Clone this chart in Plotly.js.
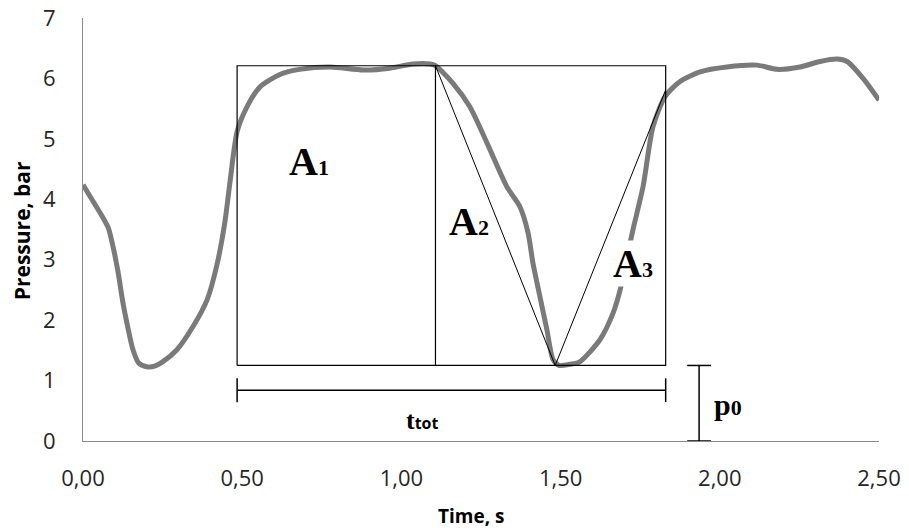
<!DOCTYPE html>
<html>
<head>
<meta charset="utf-8">
<script src="https://cdn.plot.ly/plotly-3.0.1.min.js"></script>
<style>
  html, body { margin: 0; padding: 0; background: #fff; }
  #chart { width: 909px; height: 530px; }
</style>
</head>
<body>
<div id="chart"></div>
<script>
// Pressure trace over one working cycle
const timeS = [0.00, 0.03, 0.06, 0.08, 0.095, 0.11, 0.125, 0.14, 0.157, 0.175, 0.20, 0.225, 0.25,
  0.295, 0.345, 0.39, 0.42, 0.445, 0.462, 0.484, 0.515, 0.556, 0.62, 0.68, 0.776, 0.88, 0.964,
  1.036, 1.09, 1.107, 1.162, 1.215, 1.269, 1.331, 1.372, 1.398, 1.413, 1.435, 1.457, 1.476,
  1.495, 1.53, 1.56, 1.624, 1.665, 1.687, 1.705, 1.727, 1.759, 1.79, 1.828, 1.875, 1.938,
  2.022, 2.117, 2.18, 2.252, 2.315, 2.368, 2.40, 2.45, 2.50];
const pressureBar = [4.24, 3.98, 3.72, 3.52, 3.20, 2.80, 2.30, 1.90, 1.51, 1.29, 1.23, 1.24, 1.31,
  1.51, 1.89, 2.34, 2.90, 3.60, 4.30, 5.12, 5.53, 5.86, 6.07, 6.15, 6.19, 6.14, 6.17,
  6.24, 6.24, 6.21, 5.92, 5.53, 4.93, 4.21, 3.88, 3.44, 2.95, 2.39, 1.84, 1.35,
  1.25, 1.27, 1.31, 1.68, 2.12, 2.50, 2.95, 3.49, 4.21, 5.20, 5.70, 5.95, 6.11,
  6.19, 6.22, 6.15, 6.19, 6.28, 6.32, 6.28, 6.00, 5.64];

// Area construction: rectangle A1, triangles A2 and A3
const boxTimes = [0.484, 1.107, 1.83];      // start, split, end of the cycle
const boxPressures = [1.25, 6.21];          // p0 level, plateau level
const minTime = 1.483;                      // time of the pressure minimum
const riseEndPressure = 5.81;               // pressure where A3 closes

// Dimension lines
const ttotLevel = [0.84];                   // pressure level of the t_tot bar
const p0Time = [1.935];                     // time position of the p0 bar

// Axis ticks
const xTickVals = [0, 0.5, 1.0, 1.5, 2.0, 2.5];
const xTickText = ['0,00', '0,50', '1,00', '1,50', '2,00', '2,50'];
const yTickVals = [0, 1, 2, 3, 4, 5, 6, 7];

const black = '#000000';
const thin = { color: black, width: 1.2 };

const traces = [
  {
    x: timeS, y: pressureBar, type: 'scatter', mode: 'lines',
    line: { color: '#7a7a7a', width: 5, shape: 'spline', smoothing: 0.7 },
    hoverinfo: 'skip'
  },
  {
    // rectangle around the cycle
    x: [boxTimes[0], boxTimes[0], boxTimes[2], boxTimes[2], boxTimes[0]],
    y: [boxPressures[0], boxPressures[1], boxPressures[1], boxPressures[0], boxPressures[0]],
    type: 'scatter', mode: 'lines', line: thin, hoverinfo: 'skip'
  },
  {
    // split between A1 and A2
    x: [boxTimes[1], boxTimes[1]],
    y: [boxPressures[0], boxPressures[1]],
    type: 'scatter', mode: 'lines', line: thin, hoverinfo: 'skip'
  },
  {
    // triangle sides down to the minimum and back up
    x: [boxTimes[1], minTime, boxTimes[2]],
    y: [boxPressures[1], boxPressures[0], riseEndPressure],
    type: 'scatter', mode: 'lines', line: { color: black, width: 1 }, hoverinfo: 'skip'
  },
  {
    // t_tot dimension bar
    x: [boxTimes[0], boxTimes[2]],
    y: [ttotLevel[0], ttotLevel[0]],
    type: 'scatter', mode: 'lines+markers', cliponaxis: false,
    line: { color: black, width: 1.5 },
    marker: { symbol: 'line-ns', size: 17, line: { color: black, width: 1.5 } },
    hoverinfo: 'skip'
  },
  {
    // p0 dimension bar
    x: [p0Time[0], p0Time[0]],
    y: [0, boxPressures[0]],
    type: 'scatter', mode: 'lines+markers', cliponaxis: false,
    line: { color: black, width: 1.5 },
    marker: { symbol: 'line-ew', size: 17, line: { color: black, width: 1.5 } },
    hoverinfo: 'skip'
  }
];

const serif = { family: 'Liberation Serif, Times New Roman, serif', size: 40, color: black, weight: 'bold' };
const sub = (s) => '<span style="font-size:22px">' + s + '</span>';
const tickFont = { family: 'Open Sans, sans-serif', size: 22, color: '#262626' };

const layout = {
  width: 909, height: 530,
  margin: { l: 83, r: 30, t: 18, b: 89, pad: 0 },
  paper_bgcolor: '#ffffff', plot_bgcolor: '#ffffff',
  showlegend: false,
  font: { family: 'Open Sans, sans-serif', size: 20, color: '#262626' },
  xaxis: {
    range: [0, 2.5], tickvals: xTickVals, ticktext: xTickText,
    showgrid: false, zeroline: false, showline: true, linecolor: '#8a8a8a', linewidth: 1,
    ticks: '', ticklabelstandoff: 18, fixedrange: true, tickfont: tickFont
  },
  yaxis: {
    range: [0, 7], tickvals: yTickVals,
    showgrid: false, zeroline: false, showline: true, linecolor: '#8a8a8a', linewidth: 1,
    ticks: '', ticklabelstandoff: 22, fixedrange: true, tickfont: tickFont
  },
  annotations: [
    { x: 0.71, y: 4.63, xref: 'x', yref: 'y', text: 'A' + sub('1'), showarrow: false, font: serif },
    { x: 1.212, y: 3.63, xref: 'x', yref: 'y', text: 'A' + sub('2'), showarrow: false, font: serif },
    { x: 1.727, y: 2.93, xref: 'x', yref: 'y', text: 'A' + sub('3'), showarrow: false, font: serif,
      bgcolor: '#ffffff', borderpad: 0 },
    { x: 1.065, y: 0.34, xref: 'x', yref: 'y', showarrow: false,
      text: 't<span style="font-family:\'Open Sans\';font-size:16px">tot</span>',
      font: { family: 'Liberation Serif, serif', size: 26, color: black, weight: 'bold' } },
    { x: 2.026, y: 0.6, xref: 'x', yref: 'y', showarrow: false,
      text: 'p' + sub('0'),
      font: { family: 'Liberation Serif, serif', size: 30, color: black, weight: 'bold' } },
    { x: -0.0766, y: 0.496, xref: 'paper', yref: 'paper', xanchor: 'center', yanchor: 'middle',
      showarrow: false, textangle: -90, text: 'Pressure, bar',
      font: { family: 'Open Sans, sans-serif', size: 21, color: black, weight: 'bold' } },
    { x: 0.487, y: -0.177, xref: 'paper', yref: 'paper', xanchor: 'center', yanchor: 'middle',
      showarrow: false, text: 'Time, s',
      font: { family: 'Open Sans, sans-serif', size: 19, color: black, weight: 'bold' } }
  ]
};

Plotly.newPlot('chart', traces, layout, { displayModeBar: false, staticPlot: true });
</script>
</body>
</html>
